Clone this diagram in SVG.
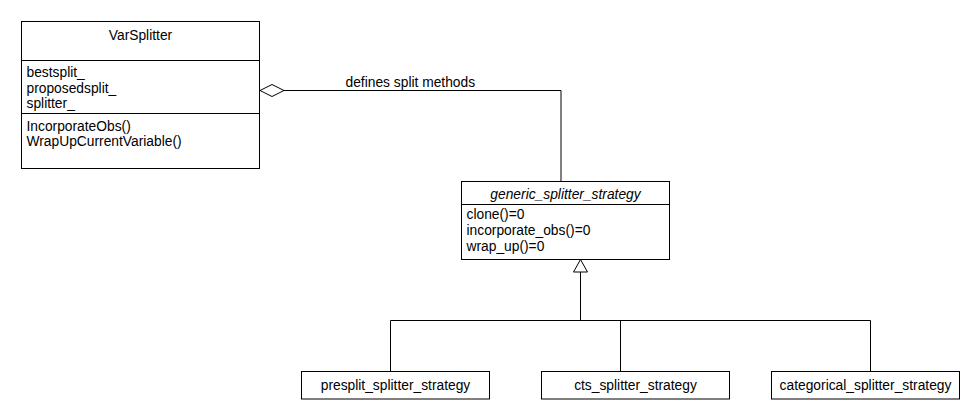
<svg xmlns="http://www.w3.org/2000/svg" width="980" height="420" viewBox="0 0 980 420">
<style>
.box{fill:#fff;stroke:#000;stroke-width:1}
.ln{fill:none;stroke:#000;stroke-width:1}
text{font-family:"Liberation Sans",Arial,sans-serif;font-size:13.8px;fill:#000}
.c{text-anchor:middle}
.i{font-style:italic}
</style>
<rect width="980" height="420" fill="#fff"/>
<g id="connectors">
<polyline class="ln" points="284,90.5 561,90.5 561,181.5"/>
<polygon class="box" points="260,90.5 272,84.5 284,90.5 272,96.5"/>
<text x="345.5" y="86.5">defines split methods</text>
<polyline class="ln" points="580.5,272 580.5,320.5"/>
<polygon class="box" points="580.5,259.5 573.5,272 587.5,272"/>
<polyline class="ln" points="390.5,371.5 390.5,320.5 870.5,320.5 870.5,371.5"/>
<line class="ln" x1="620.5" y1="320.5" x2="620.5" y2="371.5"/>
</g>
<g id="VarSplitter">
<rect class="box" x="21.5" y="21.5" width="238" height="147"/>
<line class="ln" x1="21.5" y1="60.5" x2="259.5" y2="60.5"/>
<line class="ln" x1="21.5" y1="113.5" x2="259.5" y2="113.5"/>
<text class="c" x="140.5" y="39.5">VarSplitter</text>
<text x="26.5" y="76.5">bestsplit_</text>
<text x="26.5" y="92.5">proposedsplit_</text>
<text x="26.5" y="108">splitter_</text>
<text x="26.5" y="130.5">IncorporateObs()</text>
<text x="26.5" y="145.5">WrapUpCurrentVariable()</text>
</g>
<g id="generic_splitter_strategy">
<rect class="box" x="461.5" y="181.5" width="208" height="78"/>
<line class="ln" x1="461.5" y1="204.5" x2="669.5" y2="204.5"/>
<text class="c i" x="565.5" y="198.5">generic_splitter_strategy</text>
<text x="466.5" y="218.5">clone()=0</text>
<text x="466.5" y="234.5">incorporate_obs()=0</text>
<text x="466.5" y="250.5">wrap_up()=0</text>
</g>
<g id="presplit_splitter_strategy">
<rect class="box" x="301.5" y="371.5" width="188" height="27.5"/>
<text class="c" x="395.5" y="390">presplit_splitter_strategy</text>
</g>
<g id="cts_splitter_strategy">
<rect class="box" x="541.5" y="371.5" width="188" height="27.5"/>
<text class="c" x="635.5" y="390">cts_splitter_strategy</text>
</g>
<g id="categorical_splitter_strategy">
<rect class="box" x="771.5" y="371.5" width="188" height="27.5"/>
<text class="c" x="865.5" y="390">categorical_splitter_strategy</text>
</g>
</svg>
